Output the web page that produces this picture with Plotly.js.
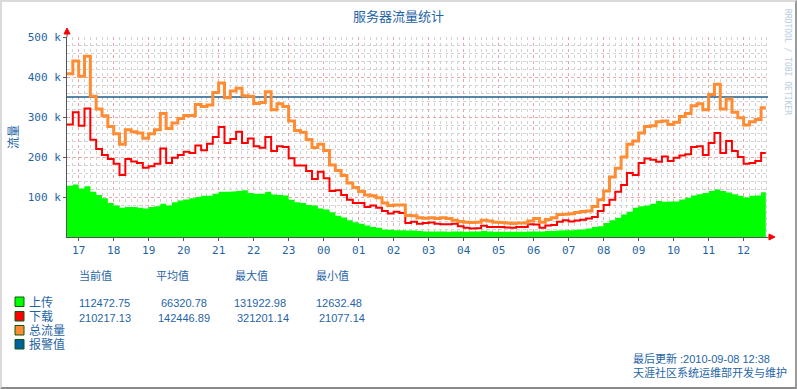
<!DOCTYPE html>
<html><head><meta charset="utf-8">
<script src="https://cdn.plot.ly/plotly-3.0.1.min.js"></script>
<style>
html,body{margin:0;padding:0;background:#fff;}
#wrap{position:relative;width:797px;height:389px;overflow:hidden;}
#chart{position:absolute;left:0;top:0;width:797px;height:389px;}
#frame{position:absolute;left:0;top:0;width:797px;height:389px;box-sizing:border-box;border-top:2px solid #dadada;border-left:2px solid #dadada;border-right:2px solid #9a9a9a;border-bottom:2px solid #8a8a8a;pointer-events:none;}
</style></head>
<body><div id="wrap"><div id="chart"></div><div id="frame"></div></div>
<script>
// ---- data (values in k, 10-minute steps starting 2010-09-07 16:40) ----
const startTime = Date.UTC(2010, 8, 7, 16, 40);
const stepMinutes = 10;
const lastUpdateTime = Date.UTC(2010, 8, 8, 12, 38);

const upload = [128,131,121,127,113,105,97,85,79,73, 75,75,73,71,75,77,83,79,87,91,
  94,97,100,103,103,108,113,113,114,115, 117,110,108,108,113,106,105,104,93,87,
  85,80,79,71,69,62,53,49,42,37, 33,29,25,23,19,18,17,17,16,16,
  15,14,14,14,14,13,14,14,13,14, 14,15,14,13,13,13,13,13,13,14,
  14,14,15,15,16,17,17,18,19,21, 25,27,35,42,48,56,63,73,77,79,
  83,90,88,89,89,94,98,104,107,110, 115,119,115,111,107,103,99,103,104,112];

const download = [281,312,278,321,243,220,205,195,183,155, 195,189,185,173,177,183,221,185,198,205,
  213,210,229,217,233,250,275,235,245,263, 235,246,227,223,250,215,227,225,197,179,
  179,165,145,163,147,115,117,105,93,85, 85,75,79,73,65,59,63,60,35,38,
  33,35,36,33,32,32,33,27,23,21, 22,28,25,25,25,24,23,25,25,32,
  31,23,29,30,38,42,39,41,43,46, 50,65,80,93,113,130,160,155,185,196,
  193,188,201,190,198,204,207,225,227,205, 235,260,210,240,215,200,183,185,190,210];

const total = [408,440,402,452,352,320,303,276,258,232, 268,263,260,247,258,268,309,271,285,296,
  304,304,331,326,330,361,385,348,365,372, 353,352,334,336,363,318,333,326,290,266,
  262,244,224,232,216,180,166,154,135,124, 114,105,103,98,85,79,80,80,54,53,
  48,47,48,46,48,46,42,39,37,36, 37,42,40,37,36,35,34,35,35,40,
  46,37,44,48,56,57,58,61,64,65, 76,93,115,150,172,200,232,240,260,276,
  278,288,290,281,287,301,309,328,333,318, 356,382,320,345,312,298,280,288,294,323];

const alarmValue = 350;

const yTickVals = [100, 200, 300, 400, 500];
const yTickText = ['100 k', '200 k', '300 k', '400 k', '500 k'];

const seriesNames = ['上传', '下载', '总流量', '报警值'];
const statHeaders = ['当前值', '平均值', '最大值', '最小值'];
const statsUpload = ['112472.75', '66320.78', '131922.98', '12632.48'];
const statsDownload = ['210217.13', '142446.89', '321201.14', '21077.14'];

const titleText = '服务器流量统计';
const yTitleText = '流量';
const footer1 = '最后更新 :2010-09-08 12:38';
const footer2 = '天涯社区系统运维部开发与维护';
const watermark = 'RRDTOOL / TOBI OETIKER';

// ---- build ----
const times = upload.map((_, i) => startTime + i * stepMinutes * 60000);
const xs = times.concat([lastUpdateTime]);
const ext = a => a.concat([a[a.length - 1]]);

const xRange = [startTime, startTime + 20.03 * 3600000];

const COL_UP = '#00FF00', COL_DOWN = '#FF0000', COL_TOT = '#FF8C32', COL_ALARM = '#1C5E8E';
const TXT = '#1F64A6';
const CJK = '"Noto Sans CJK SC", "Noto Sans", sans-serif';
const LEG = '"Liberation Sans", "Noto Sans CJK SC", sans-serif';
const MONO = '"DejaVu Sans Mono", monospace';

const L = 67, R = 768, T = 37, B = 237;
const W = R - L, H = B - T;
const P = (px, py) => ({ x: (px - L) / W, y: (B - py) / H });

const traces = [
  { x: xs, y: ext(upload), type: 'scatter', mode: 'lines', line: { width: 0, shape: 'hv', color: COL_UP },
    fill: 'tozeroy', fillcolor: COL_UP, name: seriesNames[0] },
  { x: xRange, y: [alarmValue, alarmValue], type: 'scatter', mode: 'lines',
    line: { width: 1.3, color: COL_ALARM }, name: seriesNames[3] },
  { x: xs, y: ext(download), type: 'scatter', mode: 'lines', line: { width: 2, shape: 'hv', color: COL_DOWN }, name: seriesNames[1] },
  { x: xs, y: ext(total), type: 'scatter', mode: 'lines', line: { width: 3, shape: 'hv', color: COL_TOT }, name: seriesNames[2] }
];

const shapes = [];
const annotations = [];

function label(px, py, text, size, opts) {
  const t = P(px, py);
  annotations.push(Object.assign({ xref: 'paper', yref: 'paper', x: t.x, y: t.y, xanchor: 'left', yanchor: 'middle',
    showarrow: false, text: text, borderpad: 0, font: { family: LEG, size: size, color: TXT } }, opts || {}));
}

// axis arrows & extensions
(function () {
  const a = P(L, 30), b = P(L, T);
  shapes.push({ type: 'line', xref: 'paper', yref: 'paper', x0: a.x, y0: a.y, x1: b.x, y1: b.y, line: { color: '#555', width: 1 } });
  const t1 = P(L, 28), t2 = P(L - 3, 34), t3 = P(L + 3, 34);
  shapes.push({ type: 'path', xref: 'paper', yref: 'paper', path: `M${t1.x},${t1.y} L${t2.x},${t2.y} L${t3.x},${t3.y} Z`,
    fillcolor: '#FF0000', line: { color: '#FF0000', width: 1 } });
  const c = P(R, B), d = P(770, B);
  shapes.push({ type: 'line', xref: 'paper', yref: 'paper', x0: c.x, y0: c.y, x1: d.x, y1: d.y, line: { color: '#555', width: 1 } });
  const u1 = P(775, B), u2 = P(769, B - 3), u3 = P(769, B + 3);
  shapes.push({ type: 'path', xref: 'paper', yref: 'paper', path: `M${u1.x},${u1.y} L${u2.x},${u2.y} L${u3.x},${u3.y} Z`,
    fillcolor: '#FF0000', line: { color: '#FF0000', width: 1 } });
})();

// legend swatches
const swatchColors = [COL_UP, COL_DOWN, COL_TOT, '#00609A'];
const rowY = [302, 316.5, 330.5, 344.5];
seriesNames.forEach((n, k) => {
  const p0 = P(15, rowY[k] - 5), p1 = P(24, rowY[k] + 4.5);
  shapes.push({ type: 'rect', xref: 'paper', yref: 'paper', x0: p0.x, y0: p0.y, x1: p1.x, y1: p1.y,
    fillcolor: swatchColors[k], line: { color: '#0B5A0B', width: 1 } });
  label(28, rowY[k], n, 12, { height: 13 });
});

const colX = [78, 155, 234, 315];
statHeaders.forEach((h, k) => label(colX[k], 275, h, 11, { height: 13 }));
const upX = [78, 160, 233, 315], downX = [78, 157, 236, 318];
statsUpload.forEach((v, k) => label(upX[k], 302.5, v, 11, { height: 13 }));
statsDownload.forEach((v, k) => label(downX[k], 317, v, 11, { height: 13 }));

// footer
label(632, 358, footer1, 11, { height: 13 });
label(632, 372, footer2, 11, { height: 13 });

// y title & watermark
label(12, 137, yTitleText, 12, { xanchor: 'center', textangle: -90, font: { family: CJK, size: 12, color: TXT } });
label(788, 62, watermark, 8, { xanchor: 'center', textangle: 90,
  font: { family: MONO, size: 8, color: '#B6CCE0' } });

const layout = {
  width: 797, height: 389,
  margin: { l: L, r: 797 - R, t: T, b: 389 - B, pad: 0 },
  paper_bgcolor: '#FFFFFF', plot_bgcolor: '#FFFFFF',
  showlegend: false,
  title: { text: titleText, x: 0.5, xref: 'container', xanchor: 'center', y: 1 - 16 / 389, yref: 'container', yanchor: 'middle',
    font: { family: CJK, size: 13, color: TXT } },
  xaxis: {
    type: 'date', range: xRange, tick0: Date.UTC(2010, 8, 7, 17, 0), dtick: 3600000, tickformat: '%H',
    showgrid: true, gridcolor: '#EFA3A3', griddash: 'dot', gridwidth: 1,
    minor: { dtick: 600000, tick0: Date.UTC(2010, 8, 7, 17, 0), showgrid: true, gridcolor: '#D2D2D2', griddash: 'dot', gridwidth: 1 },
    showline: true, linecolor: '#555', linewidth: 1, zeroline: false,
    ticks: 'outside', ticklen: 3, tickcolor: '#555',
    tickfont: { family: MONO, size: 11, color: TXT }, fixedrange: true
  },
  yaxis: {
    range: [0, 500], tickmode: 'array', tickvals: yTickVals, ticktext: yTickText,
    showgrid: true, gridcolor: '#EFA3A3', griddash: 'dot', gridwidth: 1,
    minor: { dtick: 20, tick0: 0, showgrid: true, gridcolor: '#D2D2D2', griddash: 'dot', gridwidth: 1 },
    showline: true, linecolor: '#555', linewidth: 1, zeroline: false,
    ticks: 'outside', ticklen: 3, tickcolor: '#555',
    tickfont: { family: MONO, size: 11, color: TXT }, fixedrange: true
  },
  shapes: shapes,
  annotations: annotations
};

Plotly.newPlot('chart', traces, layout, { staticPlot: true, displayModeBar: false });
</script></body></html>
